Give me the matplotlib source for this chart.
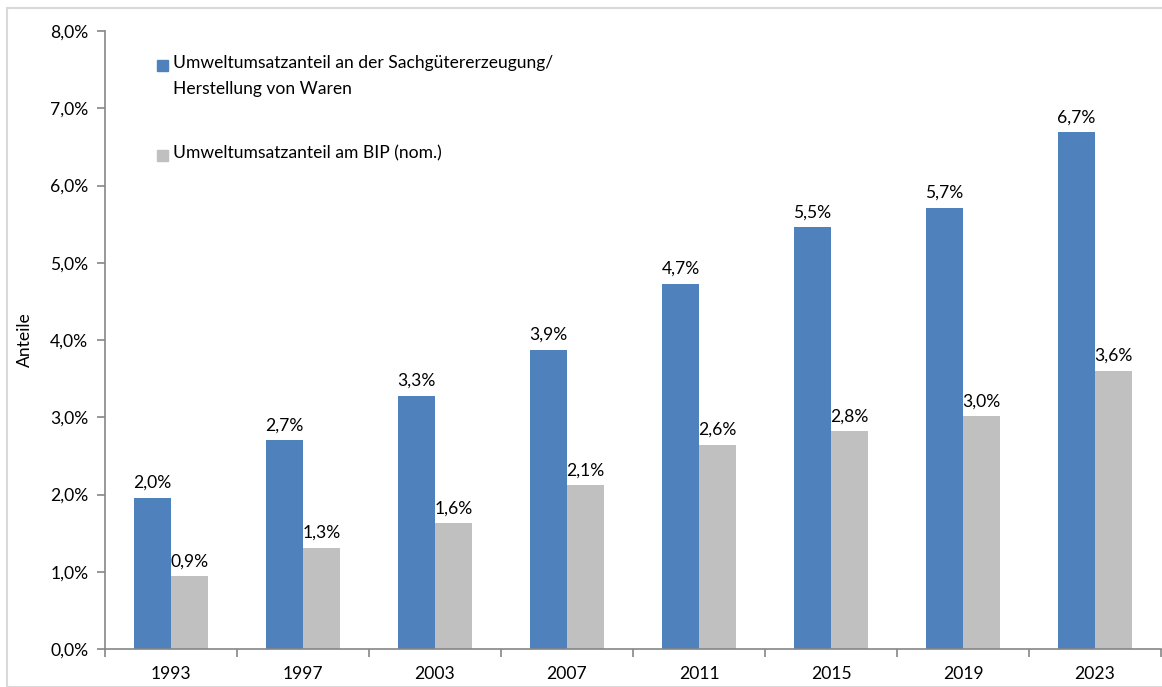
import matplotlib
matplotlib.use("Agg")
import matplotlib.pyplot as plt
from matplotlib.patches import Rectangle
import numpy as np

years = ["1993", "1997", "2003", "2007", "2011", "2015", "2019", "2023"]
share_manufacturing = [1.96, 2.70, 3.28, 3.87, 4.73, 5.46, 5.71, 6.69]
share_gdp = [0.94, 1.31, 1.63, 2.12, 2.64, 2.82, 3.01, 3.60]
label_manufacturing = "Umweltumsatzanteil an der Sachgütererzeugung/\nHerstellung von Waren"
label_gdp = "Umweltumsatzanteil am BIP (nom.)"
y_ticks = [0, 1, 2, 3, 4, 5, 6, 7, 8]

plt.rcParams['font.family'] = ['Lato', 'DejaVu Sans']

W, H = 1162, 687
fig = plt.figure(figsize=(W / 100, H / 100), dpi=100)
fig.patches.append(Rectangle((7 / W, 0), 1, 1 - 8 / H, transform=fig.transFigure,
                             fill=False, edgecolor="#D9D9D9", linewidth=1.5))
ax = fig.add_axes([105 / W, 1 - 649 / H, 1056 / W, 618 / H])

blue = "#4F81BD"
gray = "#C0C0C0"
x = np.arange(len(years))
bw = 0.28
ax.bar(x - bw / 2, share_manufacturing, bw, color=blue, label=label_manufacturing)
ax.bar(x + bw / 2, share_gdp, bw, color=gray, label=label_gdp)

fs = 12.6
def fmt(v):
    return f"{v:.1f}".replace(".", ",") + "%"

for xi, v in zip(x, share_manufacturing):
    ax.annotate(fmt(v), (xi - bw / 2, v), xytext=(0, 5), textcoords="offset points",
                ha="center", va="bottom", fontsize=fs, color="black")
for xi, v in zip(x, share_gdp):
    ax.annotate(fmt(v), (xi + bw / 2, v), xytext=(0, 5), textcoords="offset points",
                ha="center", va="bottom", fontsize=fs, color="black")

ax.set_xlim(-0.5, len(years) - 0.5)
ax.set_ylim(0, 8)
ax.set_yticks(y_ticks)
ax.set_yticklabels([f"{t},0%" for t in y_ticks], fontsize=fs)
ax.set_xticks(x)
ax.set_xticklabels(years, fontsize=fs)
ax.tick_params(axis="x", length=0, pad=12)
ax.set_xticks(np.arange(len(years) + 1) - 0.5, minor=True)
ax.tick_params(axis="x", which="minor", length=6, color="#868686", width=1.2)
ax.tick_params(axis="y", length=6, color="#868686", width=1.2, pad=6)
for s in ["top", "right"]:
    ax.spines[s].set_visible(False)
for s in ["left", "bottom"]:
    ax.spines[s].set_color("#868686")
    ax.spines[s].set_linewidth(1.2)

ax.set_ylabel("Anteile", fontsize=fs)
ax.yaxis.set_label_coords(-72 / 1056, 0.5)

# manual legend (pixel positions in figure)
def fx(px):
    return px / W
def fy(py):
    return 1 - py / H

for color, label, top in [(blue, label_manufacturing, 60), (gray, label_gdp, 150)]:
    fig.patches.append(Rectangle((fx(157), fy(top + 11)), 11 / W, 11 / H,
                                 transform=fig.transFigure, color=color))
    fig.text(fx(173), fy(top - 5), label, fontsize=fs, ha="left", va="top",
             linespacing=1.75, transform=fig.transFigure)

fig.savefig("out.png", dpi=100)
